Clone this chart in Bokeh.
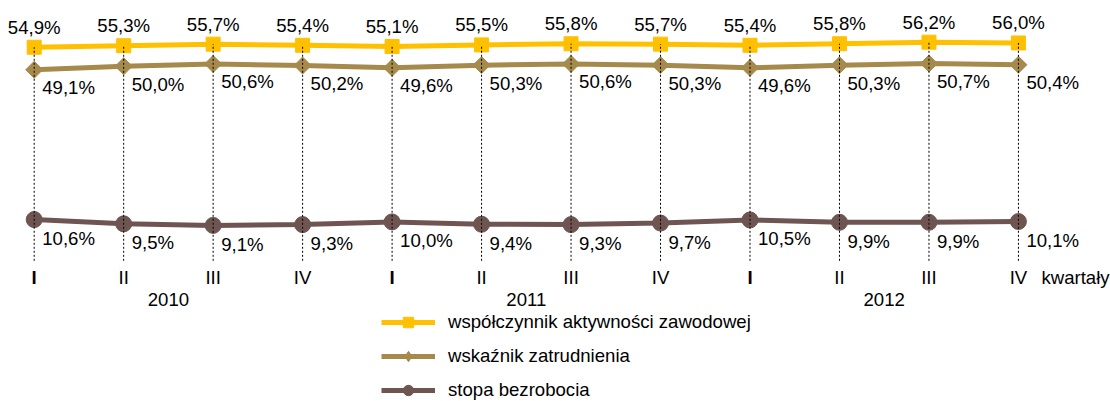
import math
from bokeh.plotting import figure
from bokeh.models import ColumnDataSource, Range1d, Legend, LegendItem
from bokeh.core.properties import value
from bokeh.embed import file_html
from bokeh.resources import INLINE

# ---- data ----
quarters = ["I", "II", "III", "IV", "I", "II", "III", "IV", "I", "II", "III", "IV"]
years = ["2010", "2011", "2012"]
activity = [54.9, 55.3, 55.7, 55.4, 55.1, 55.5, 55.8, 55.7, 55.4, 55.8, 56.2, 56.0]
employment = [49.1, 50.0, 50.6, 50.2, 49.6, 50.3, 50.6, 50.3, 49.6, 50.3, 50.7, 50.4]
unemployment = [10.6, 9.5, 9.1, 9.3, 10.0, 9.4, 9.3, 9.7, 10.5, 9.9, 9.9, 10.1]
series_names = ["współczynnik aktywności zawodowej", "wskaźnik zatrudnienia", "stopa bezrobocia"]
axis_title = "kwartały"

# ---- styles ----
YELLOW = "#FFC000"
TAN = "#A68A4B"
BROWN = "#6F5551"
FONT = "Liberation Sans"
FS = "18.6px"

def fmt(v):
    return f"{v:.1f}%".replace(".", ",")

xs = list(range(len(quarters)))

W, H = 1110, 401
p = figure(width=W, height=H, output_backend="svg", toolbar_location=None,
           x_range=Range1d(-0.3766, 12.029), y_range=Range1d(-36.17, 66.915),
           min_border=0, outline_line_color=None)
p.axis.visible = False
p.grid.visible = False
p.background_fill_color = "white"

src = ColumnDataSource(dict(
    x=xs, act=activity, emp=employment, une=unemployment, zero=[0] * len(xs),
    act_l=[fmt(v) for v in activity], emp_l=[fmt(v) for v in employment],
    une_l=[fmt(v) for v in unemployment], q=quarters,
    qstyle=["bold" if q == "I" else "normal" for q in quarters],
))

# lines + markers
l1 = p.line("x", "act", source=src, line_color=YELLOW, line_width=5)
m1 = p.scatter("x", "act", source=src, marker="square", size=14,
               fill_color=YELLOW, line_color=YELLOW)
l2 = p.line("x", "emp", source=src, line_color=TAN, line_width=5)
# diamond used for the legend symbol (hidden underneath the larger rotated squares)
m2_leg = p.scatter("x", "emp", source=src, marker="diamond", size=12,
                   fill_color=TAN, line_color=TAN)
m2 = p.scatter("x", "emp", source=src, marker="square", angle=math.pi / 4, size=12,
               fill_color=TAN, line_color=TAN)
l3 = p.line("x", "une", source=src, line_color=BROWN, line_width=5)
m3 = p.scatter("x", "une", source=src, marker="circle", size=16,
               fill_color=BROWN, line_color=BROWN)

# drop lines (on top)
p.segment(x0="x", y0="zero", x1="x", y1="act", source=src,
          line_color="black", line_width=1, line_dash="2 2")

# data labels
common = dict(source=src, text_font=value(FONT), text_font_size=FS,
              text_color="black", text_baseline="middle")
p.text("x", "act", text="act_l", text_align="center", y_offset=-20, **common)
p.text("x", "emp", text="emp_l", text_align="left", x_offset=8, y_offset=18, **common)
p.text("x", "une", text="une_l", text_align="left", x_offset=8, y_offset=19, **common)

# category labels
p.text("x", "zero", text="q", text_align="center", y_offset=17, text_font_style="qstyle",
       **common)
ysrc = ColumnDataSource(dict(x=[4 * k + 1.5 for k in range(len(years))],
                             y=[0] * len(years), t=years))
p.text("x", "y", text="t", source=ysrc, text_font=value(FONT), text_font_size=FS,
       text_color="black", text_baseline="middle", text_align="center", y_offset=39)
tsrc = ColumnDataSource(dict(x=[xs[-1]], y=[0], t=[axis_title]))
p.text("x", "y", text="t", source=tsrc, text_font=value(FONT), text_font_size=FS,
       text_color="black", text_baseline="middle", text_align="left",
       x_offset=23, y_offset=17)

legend = Legend(items=[
    LegendItem(label=series_names[0], renderers=[l1, m1]),
    LegendItem(label=series_names[1], renderers=[l2, m2_leg]),
    LegendItem(label=series_names[2], renderers=[l3, m3]),
], location=(381, -2), orientation="vertical",
    glyph_width=54, glyph_height=26, label_height=26, spacing=8,
    label_standoff=13, padding=0, margin=0,
    border_line_color=None, background_fill_alpha=0,
    label_text_font=FONT, label_text_font_size=FS, label_text_color="black")
p.add_layout(legend, "center")

open("out.html", "w").write(file_html(p, INLINE))
